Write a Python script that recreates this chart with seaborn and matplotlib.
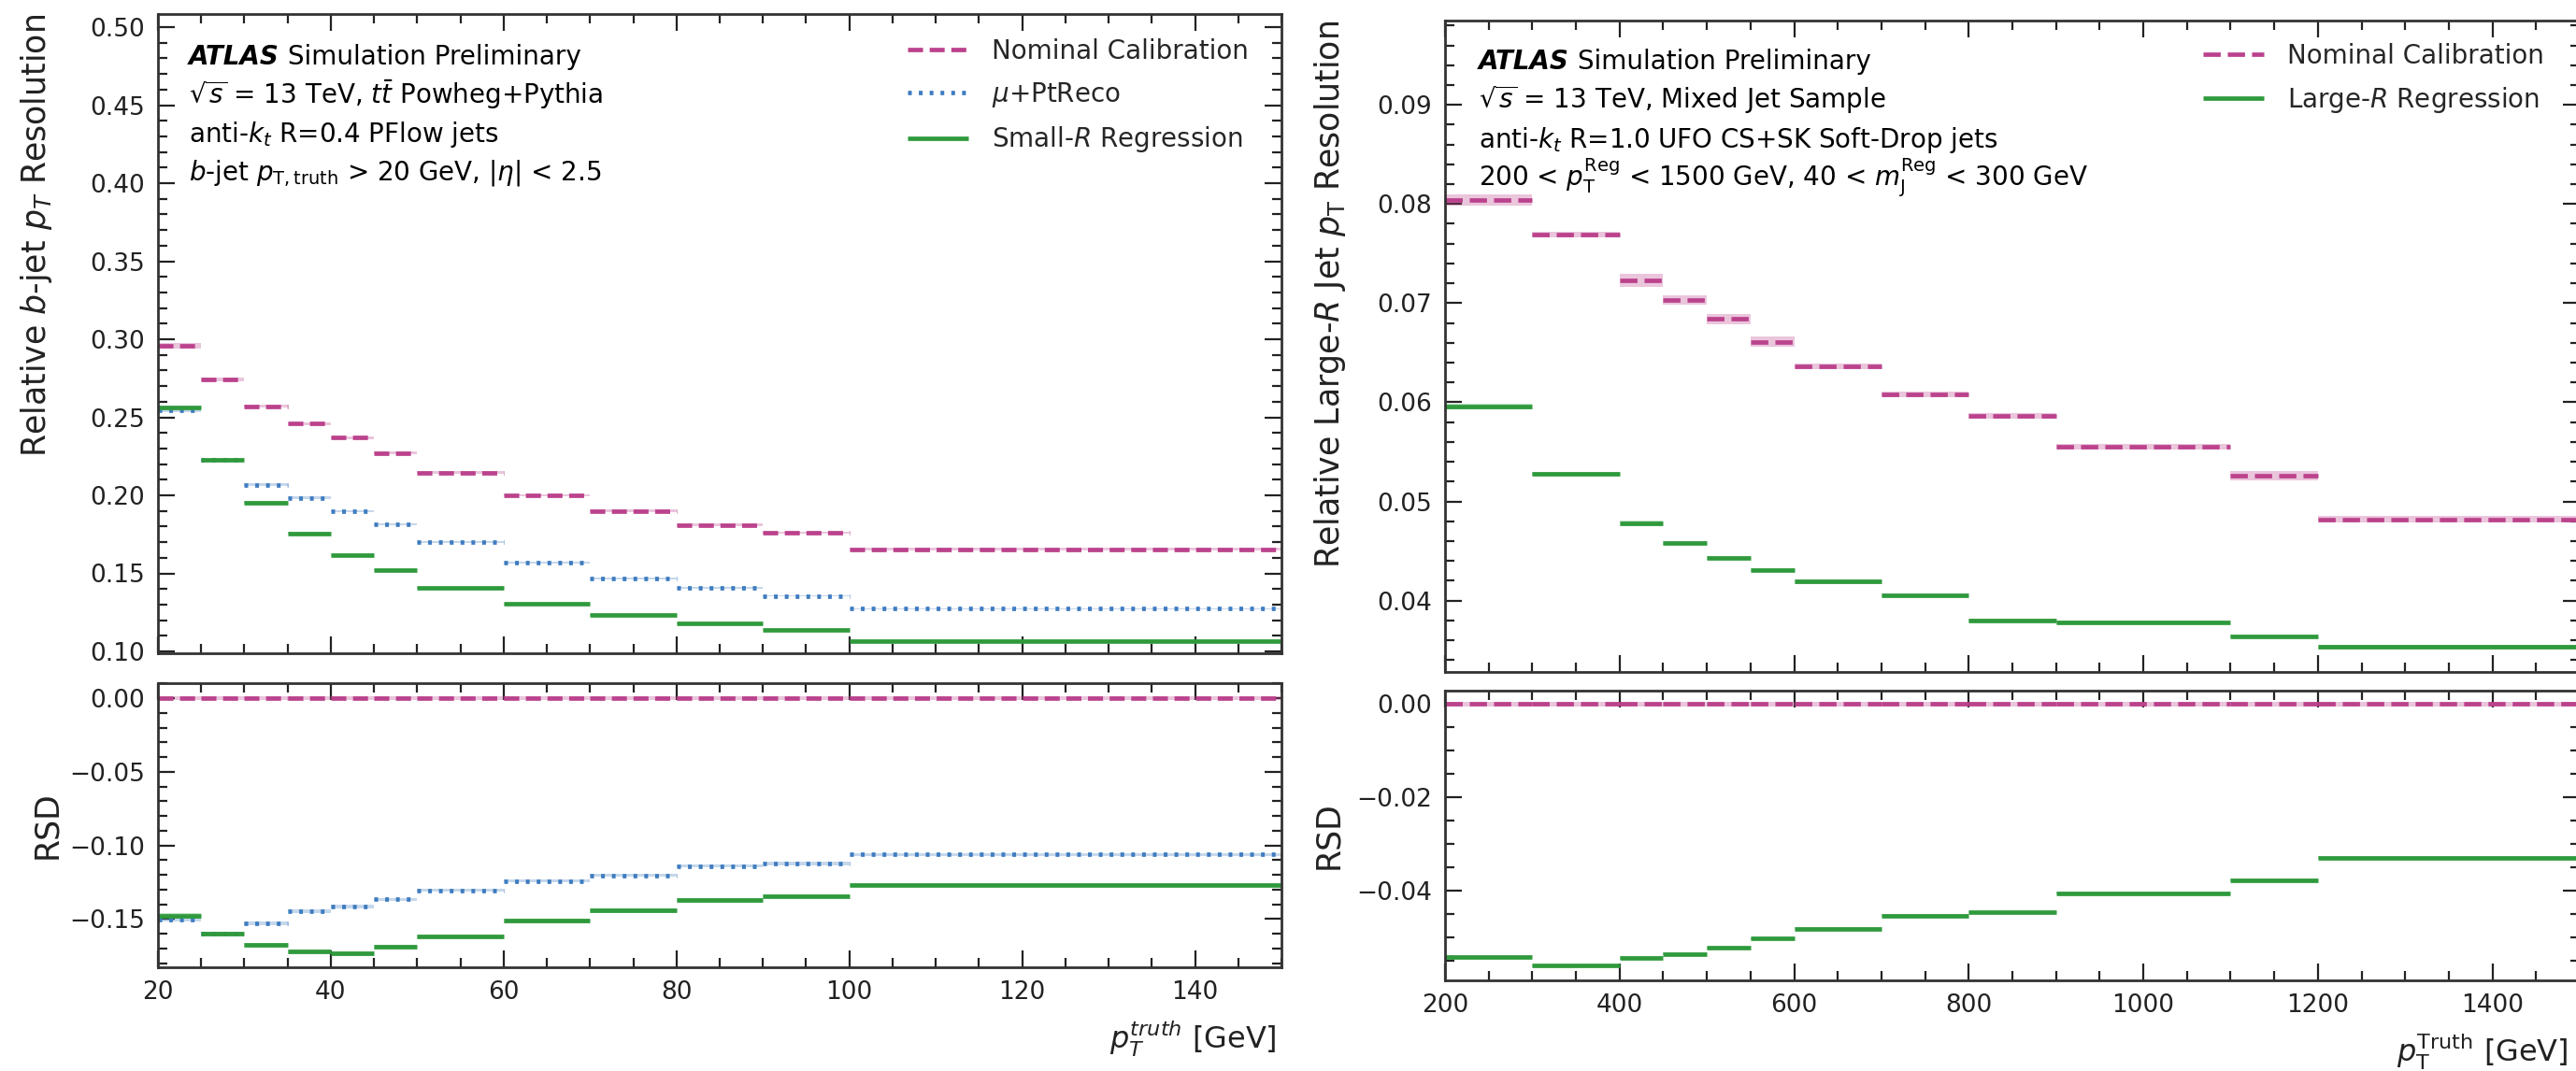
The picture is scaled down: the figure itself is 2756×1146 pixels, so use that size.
import numpy as np
import pandas as pd
import seaborn as sns
import matplotlib.pyplot as plt
from matplotlib.lines import Line2D
from matplotlib.ticker import MultipleLocator

sns.set_theme(style="ticks")
plt.rcParams['font.family'] = ['DejaVu Sans']
plt.rcParams['mathtext.fontset'] = 'dejavusans'
plt.rcParams['lines.solid_capstyle'] = 'butt'
plt.rcParams['lines.dash_capstyle'] = 'butt'

# ---- small-R b-jets (left) ----
small_edges = [20, 25, 30, 35, 40, 45, 50, 60, 70, 80, 90, 100, 150]
small_nominal = [0.296, 0.274, 0.257, 0.246, 0.237, 0.227, 0.2145, 0.200, 0.190, 0.181, 0.176, 0.1655]
small_mu = [0.2545, 0.2225, 0.2068, 0.1985, 0.1897, 0.1817, 0.1701, 0.1566, 0.1469, 0.1406, 0.1356, 0.1273]
small_reg = [0.2564, 0.2225, 0.1954, 0.1756, 0.1618, 0.1521, 0.1406, 0.1303, 0.1234, 0.1179, 0.1138, 0.1066]
small_nominal_err = [0.0018, 0.0012, 0.0010, 0.0010, 0.0009, 0.0009, 0.0008, 0.0008, 0.0008, 0.0008, 0.0008, 0.0007]
small_mu_err = [0.0010, 0.0008, 0.0007, 0.0007, 0.0006, 0.0006, 0.0006, 0.0006, 0.0005, 0.0005, 0.0005, 0.0005]
small_reg_err = [0.0012, 0.0010, 0.0009, 0.0008, 0.0008, 0.0007, 0.0007, 0.0006, 0.0006, 0.0006, 0.0006, 0.0006]
small_rsd_nominal = [0.0, 0.0, 0.0, 0.0, 0.0, 0.0, 0.0, 0.0, 0.0, 0.0, 0.0, 0.0]
small_rsd_mu = [-0.1504, -0.1598, -0.1529, -0.1445, -0.1416, -0.1366, -0.1305, -0.1242, -0.1202, -0.1140, -0.1123, -0.1060]
small_rsd_reg = [-0.1479, -0.1600, -0.1676, -0.1722, -0.1732, -0.1690, -0.1617, -0.1512, -0.1443, -0.1372, -0.1345, -0.1267]
small_rsd_nominal_err = [0.0015, 0.0015, 0.0015, 0.0015, 0.0015, 0.0015, 0.0015, 0.0015, 0.0015, 0.0015, 0.0015, 0.0015]
small_rsd_mu_err = [0.0012, 0.0012, 0.0012, 0.0011, 0.0011, 0.0011, 0.0010, 0.0010, 0.0010, 0.0010, 0.0010, 0.0010]
small_rsd_reg_err = [0.0018, 0.0016, 0.0016, 0.0016, 0.0016, 0.0015, 0.0015, 0.0014, 0.0014, 0.0014, 0.0014, 0.0013]

# ---- large-R jets (right) ----
large_edges = [200, 300, 400, 450, 500, 550, 600, 700, 800, 900, 1100, 1200, 1500]
large_nominal = [0.0804, 0.0769, 0.0723, 0.0703, 0.0684, 0.0661, 0.0636, 0.0608, 0.0586, 0.0555, 0.0526, 0.0482]
large_reg = [0.0596, 0.0528, 0.0478, 0.0458, 0.0443, 0.0431, 0.0419, 0.0405, 0.0380, 0.0378, 0.0364, 0.0353]
large_nominal_err = [0.00055, 0.0003, 0.00065, 0.0005, 0.0005, 0.0005, 0.0003, 0.0003, 0.0003, 0.0003, 0.0005, 0.0003]
large_reg_err = [0.0003, 0.0002, 0.0003, 0.0002, 0.0002, 0.0002, 0.0002, 0.0002, 0.0002, 0.0002, 0.0002, 0.0002]
large_rsd_nominal = [0.0, 0.0, 0.0, 0.0, 0.0, 0.0, 0.0, 0.0, 0.0, 0.0, 0.0, 0.0]
large_rsd_reg = [-0.0542, -0.0560, -0.0544, -0.0535, -0.0522, -0.0502, -0.0481, -0.0453, -0.0446, -0.0405, -0.0377, -0.0329]
large_rsd_nominal_err = [0.0005, 0.0005, 0.0005, 0.0005, 0.0005, 0.0005, 0.0005, 0.0005, 0.0005, 0.0005, 0.0005, 0.0005]
large_rsd_reg_err = [0.0004, 0.0003, 0.0004, 0.0003, 0.0003, 0.0003, 0.0003, 0.0003, 0.0003, 0.0003, 0.0003, 0.0003]

C_NOM = '#bb428c'
C_MU = '#3f7cc0'
C_REG = '#2f9a3c'
INK = '#222222'
LW = 3.4

W, H = 2756, 1146
fig = plt.figure(figsize=(W / 100, H / 100), dpi=100)


def px_axes(l, t, r, b):
    return fig.add_axes([l / W, 1 - b / H, (r - l) / W, (b - t) / H])


def draw_steps(ax, edges, series, errs, colors, dashes):
    rows = []
    for name, vals in series.items():
        for i, v in enumerate(vals):
            rows.append((edges[i], v, name, i))
            rows.append((edges[i + 1], v, name, i))
            e = errs[name][i]
            ax.fill_between([edges[i], edges[i + 1]], v - e, v + e,
                            color=colors[name], alpha=0.3, lw=0)
    df = pd.DataFrame(rows, columns=['x', 'y', 'series', 'bin'])
    sns.lineplot(data=df, x='x', y='y', hue='series', style='series', units='bin',
                 estimator=None, sort=False, palette=colors, dashes=dashes,
                 linewidth=LW, legend=False, ax=ax)
    ax.set_xlabel('')
    ax.set_ylabel('')


def style_axes(ax, xmaj, xmin, ymaj, ymin, labelbottom):
    ax.xaxis.set_major_locator(MultipleLocator(xmaj))
    ax.xaxis.set_minor_locator(MultipleLocator(xmin))
    ax.yaxis.set_major_locator(MultipleLocator(ymaj))
    ax.yaxis.set_minor_locator(MultipleLocator(ymin))
    ax.tick_params(which='both', direction='in', top=True, right=True,
                   color=INK, labelcolor=INK, labelsize=19, width=1.6, pad=10,
                   labelbottom=labelbottom)
    ax.tick_params(which='major', length=13)
    ax.tick_params(which='minor', length=7.5)
    for sp in ax.spines.values():
        sp.set_linewidth(2)
        sp.set_color('#333333')


def atlas_block(ax, x, ys, lines):
    t = ax.text(x, ys[0], 'ATLAS', transform=ax.transAxes, fontsize=20,
                fontweight='bold', fontstyle='italic', va='baseline', color='black')
    ax.annotate(' Simulation Preliminary', xy=(1, 0), xycoords=t, va='bottom',
                fontsize=20, color='black')
    for y, s in zip(ys[1:], lines):
        ax.text(x, y, s, transform=ax.transAxes, fontsize=20, va='baseline', color='black')


# ---------------- left panel ----------------
colors_s = {'Nominal Calibration': C_NOM, r'$\mu$+PtReco': C_MU, 'Small-$R$ Regression': C_REG}
dashes_s = {'Nominal Calibration': (3.4, 1.5), r'$\mu$+PtReco': (0.85, 1.6), 'Small-$R$ Regression': ''}

ax1 = px_axes(169, 15, 1371, 699)
draw_steps(ax1, small_edges,
           {'Nominal Calibration': small_nominal, r'$\mu$+PtReco': small_mu, 'Small-$R$ Regression': small_reg},
           {'Nominal Calibration': small_nominal_err, r'$\mu$+PtReco': small_mu_err, 'Small-$R$ Regression': small_reg_err},
           colors_s, dashes_s)
ax1.set_xlim(20, 150)
ax1.set_ylim(0.0988, 0.5084)
style_axes(ax1, 20, 5, 0.05, 0.01, False)
ax1.set_ylabel('Relative $b$-jet $p_T$ Resolution', fontsize=25, loc='top', color=INK)
ax1.yaxis.set_label_coords(-0.092, 1.0)
atlas_block(ax1, 0.0275, [0.921, 0.860, 0.800, 0.740],
            [r'$\sqrt{s}$ = 13 TeV, $t\bar{t}$ Powheg+Pythia',
             r'anti-$k_t$ R=0.4 PFlow jets',
             r'$b$-jet $p_{\mathrm{T,truth}}$ > 20 GeV, $|\eta|$ < 2.5'])
handles = [Line2D([], [], color=colors_s[k], lw=LW, dashes=dashes_s[k] if dashes_s[k] else (None, None))
           for k in colors_s]
ax1.legend(handles, list(colors_s), loc='upper left', bbox_to_anchor=(0.667, 0.962),
           frameon=False, fontsize=20, handlelength=2.34, handletextpad=0.9,
           labelspacing=0.6, borderpad=0, borderaxespad=0)

ax2 = px_axes(169, 731, 1371, 1035)
draw_steps(ax2, small_edges,
           {'Nominal Calibration': small_rsd_nominal, r'$\mu$+PtReco': small_rsd_mu, 'Small-$R$ Regression': small_rsd_reg},
           {'Nominal Calibration': small_rsd_nominal_err, r'$\mu$+PtReco': small_rsd_mu_err, 'Small-$R$ Regression': small_rsd_reg_err},
           colors_s, dashes_s)
ax2.set_xlim(20, 150)
ax2.set_ylim(-0.1827, 0.0102)
style_axes(ax2, 20, 5, 0.05, 0.01, True)
ax2.set_ylabel('RSD', fontsize=25, color=INK)
ax2.yaxis.set_label_coords(-0.085, 0.5)
fig.text(1366 / W, 1 - 1122 / H, r'$p_T^{truth}$ [GeV]', ha='right', va='baseline',
         fontsize=23, color=INK)

# ---------------- right panel ----------------
colors_l = {'Nominal Calibration': C_NOM, 'Large-$R$ Regression': C_REG}
dashes_l = {'Nominal Calibration': (3.9, 1.6), 'Large-$R$ Regression': ''}

ax3 = px_axes(1546, 22, 2760, 719)
draw_steps(ax3, large_edges,
           {'Nominal Calibration': large_nominal, 'Large-$R$ Regression': large_reg},
           {'Nominal Calibration': large_nominal_err, 'Large-$R$ Regression': large_reg_err},
           colors_l, dashes_l)
ax3.set_xlim(200, 1500)
ax3.set_ylim(0.0328, 0.0985)
style_axes(ax3, 200, 50, 0.01, 0.002, False)
ax3.set_ylabel(r'Relative Large-$R$ Jet $p_{\mathrm{T}}$ Resolution', fontsize=25, loc='top', color=INK)
ax3.yaxis.set_label_coords(-0.0857, 1.0)
atlas_block(ax3, 0.0297, [0.925, 0.865, 0.805, 0.747],
            [r'$\sqrt{s}$ = 13 TeV, Mixed Jet Sample',
             r'anti-$k_t$ R=1.0 UFO CS+SK Soft-Drop jets',
             r'200 < $p_{\mathrm{T}}^{\mathrm{Reg}}$ < 1500 GeV, 40 < $m_{\mathrm{J}}^{\mathrm{Reg}}$ < 300 GeV'])
handles = [Line2D([], [], color=colors_l[k], lw=LW, dashes=dashes_l[k] if dashes_l[k] else (None, None))
           for k in colors_l]
ax3.legend(handles, list(colors_l), loc='upper left', bbox_to_anchor=(0.668, 0.9656),
           frameon=False, fontsize=20, handlelength=2.34, handletextpad=0.9,
           labelspacing=0.6, borderpad=0, borderaxespad=0)

ax4 = px_axes(1546, 739, 2760, 1049)
draw_steps(ax4, large_edges,
           {'Nominal Calibration': large_rsd_nominal, 'Large-$R$ Regression': large_rsd_reg},
           {'Nominal Calibration': large_rsd_nominal_err, 'Large-$R$ Regression': large_rsd_reg_err},
           colors_l, dashes_l)
ax4.set_xlim(200, 1500)
ax4.set_ylim(-0.0592, 0.0028)
style_axes(ax4, 200, 50, 0.02, 0.005, True)
ax4.set_ylabel('RSD', fontsize=25, color=INK)
ax4.yaxis.set_label_coords(-0.089, 0.5)
fig.text(2748 / W, 1 - 1136 / H, r'$p_{\mathrm{T}}^{\mathrm{Truth}}$ [GeV]', ha='right', va='baseline',
         fontsize=23, color=INK)

fig.savefig('out.png', dpi=100)
